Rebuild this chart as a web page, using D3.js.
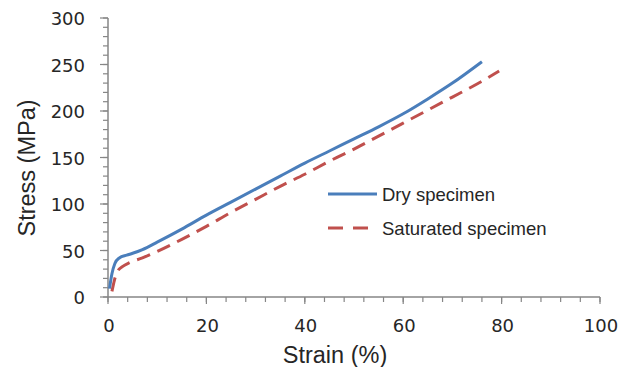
<!DOCTYPE html>
<html>
<head>
<meta charset="utf-8">
<script src="https://cdn.jsdelivr.net/npm/d3@7"></script>
<style>
  html, body { margin: 0; padding: 0; background: #fff; }
  svg { display: block; font-family: "Liberation Sans", Arial, sans-serif; }
</style>
</head>
<body>
<svg id="chart" width="630" height="367"></svg>
<script>
// Stress–strain curves (strain %, stress MPa)
const dryStrain = [0.3, 0.8, 1.4, 2.3, 3.8, 5, 7, 10, 15, 20, 25, 30, 35, 40, 45, 50, 55, 60, 65, 70, 76];
const dryStress = [9, 25, 36, 42, 45, 47, 51, 59, 73, 88, 102, 116, 130, 144, 157, 170, 183, 197, 213, 230, 253];
const satStrain = [0.8, 1.3, 2, 3, 4.4, 7, 10, 15, 20, 25, 30, 35, 40, 45, 50, 55, 60, 65, 70, 75, 79.5];
const satStress = [6, 18, 28, 33, 37, 42, 49, 62, 76, 91, 105, 119, 132, 146, 159, 173, 187, 201, 215, 229, 243];
const seriesNames = ["Dry specimen", "Saturated specimen"];
const xTicks = [0, 20, 40, 60, 80, 100];
const yTicks = [0, 50, 100, 150, 200, 250, 300];

const svg = d3.select("#chart");
const x = d3.scaleLinear().domain([0, 100]).range([108, 600]);
const y = d3.scaleLinear().domain([0, 300]).range([297, 18]);
const axisColor = "#868686";
const textColor = "#262626";
const tickFont = "'DejaVu Sans', Verdana, sans-serif";

// x axis with minor ticks every 4%
const gx = svg.append("g");
gx.selectAll("line.minor").data(d3.range(0, 101, 4)).join("line")
  .attr("x1", d => x(d)).attr("x2", d => x(d))
  .attr("y1", y(0)).attr("y2", y(0) + 5)
  .attr("stroke", axisColor).attr("stroke-width", 1.2);
gx.selectAll("line.major").data(xTicks).join("line")
  .attr("x1", d => x(d)).attr("x2", d => x(d))
  .attr("y1", y(0)).attr("y2", y(0) + 7)
  .attr("stroke", axisColor).attr("stroke-width", 1.2);
gx.append("line").attr("x1", x(0)).attr("x2", x(100)).attr("y1", y(0)).attr("y2", y(0))
  .attr("stroke", axisColor).attr("stroke-width", 1.5);
gx.selectAll("text").data(xTicks).join("text")
  .attr("x", d => x(d) + 1).attr("y", 332)
  .attr("text-anchor", "middle").attr("font-size", 18).attr("font-family", tickFont)
  .attr("fill", textColor)
  .text(d => d);

// y axis with minor ticks every 10 MPa
const gy = svg.append("g");
gy.selectAll("line.minor").data(d3.range(0, 301, 10)).join("line")
  .attr("x1", x(0) - 5).attr("x2", x(0))
  .attr("y1", d => y(d)).attr("y2", d => y(d))
  .attr("stroke", axisColor).attr("stroke-width", 1.2);
gy.selectAll("line.major").data(yTicks).join("line")
  .attr("x1", x(0) - 8).attr("x2", x(0))
  .attr("y1", d => y(d)).attr("y2", d => y(d))
  .attr("stroke", axisColor).attr("stroke-width", 1.2);
gy.append("line").attr("x1", x(0)).attr("x2", x(0)).attr("y1", y(0)).attr("y2", y(300))
  .attr("stroke", axisColor).attr("stroke-width", 1.5);
gy.selectAll("text").data(yTicks).join("text")
  .attr("x", 85).attr("y", d => y(d) + 7)
  .attr("text-anchor", "end").attr("font-size", 18).attr("font-family", tickFont)
  .attr("fill", textColor)
  .text(d => d);

// axis titles
svg.append("text").attr("x", 335).attr("y", 363).attr("text-anchor", "middle")
  .attr("font-size", 23.5).attr("fill", textColor).text("Strain (%)");
svg.append("text").attr("transform", "translate(35,168) rotate(-90)").attr("text-anchor", "middle")
  .attr("font-size", 23.5).attr("fill", textColor).text("Stress (MPa)");

// curves
const line = d3.line().x(d => x(d[0])).y(d => y(d[1])).curve(d3.curveMonotoneX);
const dry = dryStrain.map((s, i) => [s, dryStress[i]]);
const sat = satStrain.map((s, i) => [s, satStress[i]]);
const styles = [
  { color: "#4a7ebb", dash: null },
  { color: "#c0504d", dash: "14,8" }
];
svg.append("path").datum(sat).attr("d", line).attr("fill", "none")
  .attr("stroke", styles[1].color).attr("stroke-width", 3).attr("stroke-dasharray", styles[1].dash);
svg.append("path").datum(dry).attr("d", line).attr("fill", "none")
  .attr("stroke", styles[0].color).attr("stroke-width", 3);

// legend
const leg = svg.append("g");
seriesNames.forEach((name, i) => {
  const ly = 194 + i * 34;
  leg.append("line").attr("x1", 328).attr("x2", 377).attr("y1", ly).attr("y2", ly)
    .attr("stroke", styles[i].color).attr("stroke-width", 3)
    .attr("stroke-dasharray", styles[i].dash ? "15,10" : null);
  leg.append("text").attr("x", 382).attr("y", ly + 7).attr("font-size", 18.5)
    .attr("fill", textColor).text(name);
});
</script>
</body>
</html>
